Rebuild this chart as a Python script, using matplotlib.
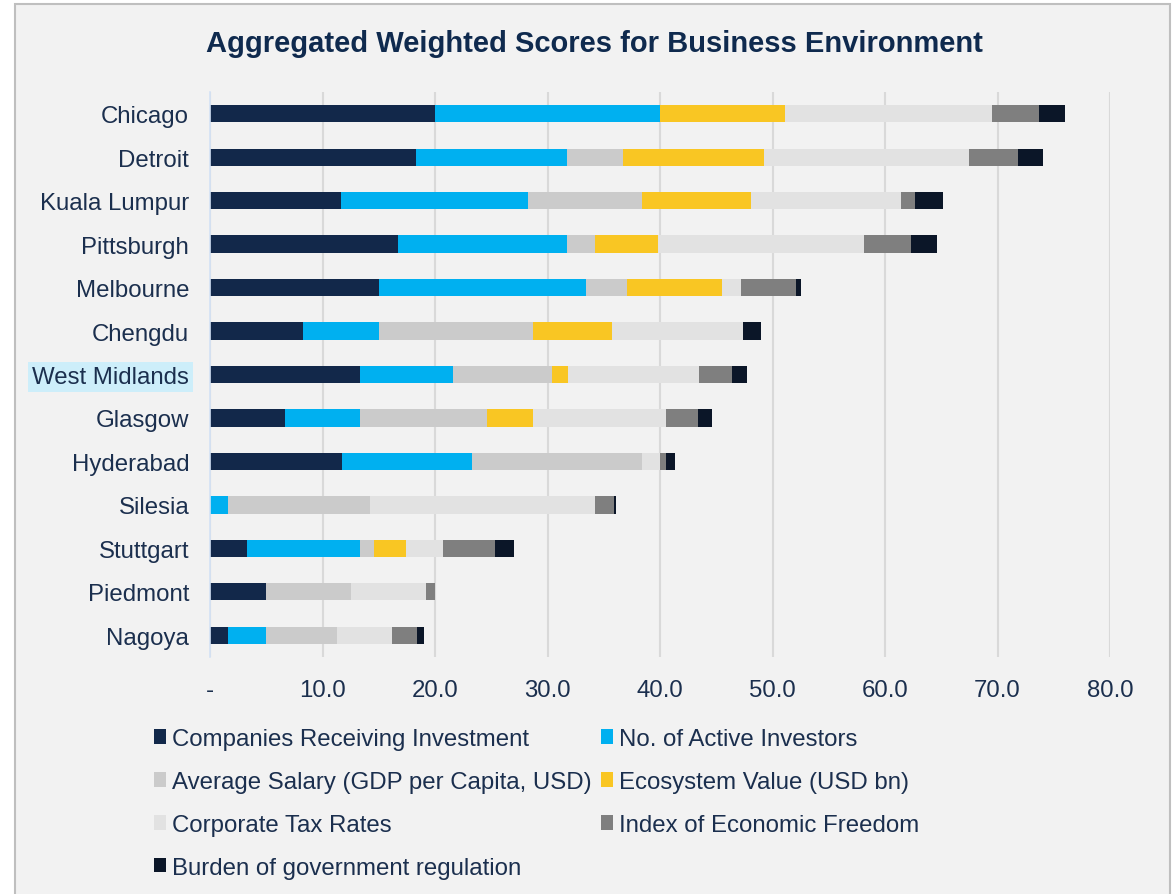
import numpy as np
import matplotlib.pyplot as plt
from matplotlib.patches import Rectangle

plt.rcParams['font.family'] = ['Liberation Sans', 'DejaVu Sans']

cities = ['Chicago', 'Detroit', 'Kuala Lumpur', 'Pittsburgh', 'Melbourne', 'Chengdu',
          'West Midlands', 'Glasgow', 'Hyderabad', 'Silesia', 'Stuttgart', 'Piedmont', 'Nagoya']

companies = [20.0, 18.3, 11.6, 16.7, 15.0, 8.3, 13.3, 6.7, 11.7, 0.0, 3.3, 5.0, 1.6]
investors = [20.0, 13.4, 16.7, 15.0, 18.4, 6.7, 8.3, 6.6, 11.6, 1.6, 10.0, 0.0, 3.4]
salary = [0.0, 5.0, 10.1, 2.5, 3.7, 13.7, 8.8, 11.3, 15.1, 12.6, 1.3, 7.5, 6.3]
ecosystem = [11.1, 12.5, 9.7, 5.6, 8.4, 7.0, 1.4, 4.1, 0.0, 0.0, 2.8, 0.0, 0.0]
tax = [18.4, 18.3, 13.3, 18.3, 1.7, 11.7, 11.7, 11.8, 1.6, 20.0, 3.3, 6.7, 4.9]
freedom = [4.2, 4.3, 1.3, 4.2, 4.9, 0.0, 2.9, 2.9, 0.5, 1.7, 4.6, 0.8, 2.2]
burden = [2.3, 2.2, 2.5, 2.3, 0.4, 1.6, 1.3, 1.2, 0.8, 0.2, 1.7, 0.0, 0.6]

series = [
    ('Companies Receiving Investment', companies, '#12284a'),
    ('No. of Active Investors', investors, '#00b0f0'),
    ('Average Salary (GDP per Capita, USD)', salary, '#cbcbcb'),
    ('Ecosystem Value (USD bn)', ecosystem, '#f9c623'),
    ('Corporate Tax Rates', tax, '#e2e2e2'),
    ('Index of Economic Freedom', freedom, '#7f7f7f'),
    ('Burden of government regulation', burden, '#0b1628'),
]

text_col = '#1b2f4e'
bg = '#f2f2f2'

fig = plt.figure(figsize=(11.75, 8.95), dpi=100)
fig.patch.set_facecolor('white')
fig.patches.append(Rectangle((15 / 1175, -0.01), 1155 / 1175, 1 - 5 / 895 + 0.01,
                             transform=fig.transFigure, facecolor=bg,
                             edgecolor='#bfbfbf', lw=1.5, zorder=-10))

ax = fig.add_axes([210 / 1175, 1 - 658 / 895, 900 / 1175, 565 / 895])
ax.set_facecolor('none')

y = np.arange(len(cities))
left = np.zeros(len(cities))
handles = []
for name, vals, col in series:
    b = ax.barh(y, vals, left=left, height=0.4, color=col, label=name)
    handles.append(b)
    left += np.array(vals)

ax.set_ylim(len(cities) - 0.5, -0.5)
ax.set_xlim(0, 80)
ax.set_xticks(np.arange(0, 81, 10))
ax.set_xticklabels(['-'] + [f'{v:.1f}' for v in range(10, 81, 10)])
ax.set_yticks(y)
ax.set_yticklabels(cities)
ax.tick_params(axis='both', length=0, labelsize=17.3, labelcolor=text_col)
ax.tick_params(axis='x', pad=16)
ax.tick_params(axis='y', pad=15)
ax.grid(axis='x', color='#d9d9d9', lw=1.5)
ax.set_axisbelow(True)
for s in ['top', 'right', 'bottom']:
    ax.spines[s].set_visible(False)
ax.spines['left'].set_color('#d3e2f5')
ax.spines['left'].set_linewidth(1.2)

# highlight West Midlands label
for lbl in ax.get_yticklabels():
    if lbl.get_text() == 'West Midlands':
        lbl.set_bbox(dict(facecolor='#cdeefa', edgecolor='none', pad=3))

fig.text(594 / 1175, 1 - 44 / 895, 'Aggregated Weighted Scores for Business Environment',
         ha='center', va='center', fontsize=21, fontweight='bold', color='#0f2a4e')

order = [0, 2, 4, 6, 1, 3, 5]
leg = fig.legend([handles[i] for i in order], [series[i][0] for i in order],
                 loc='upper left', bbox_to_anchor=(154 / 1175, 1 - 729 / 895),
                 ncol=2, frameon=False, fontsize=17.3, labelcolor=text_col,
                 handlelength=0.5, handleheight=0.55, handletextpad=0.25,
                 columnspacing=0.4, labelspacing=0.87, borderpad=0, borderaxespad=0)

fig.savefig('out.png', dpi=100, facecolor=fig.get_facecolor())
